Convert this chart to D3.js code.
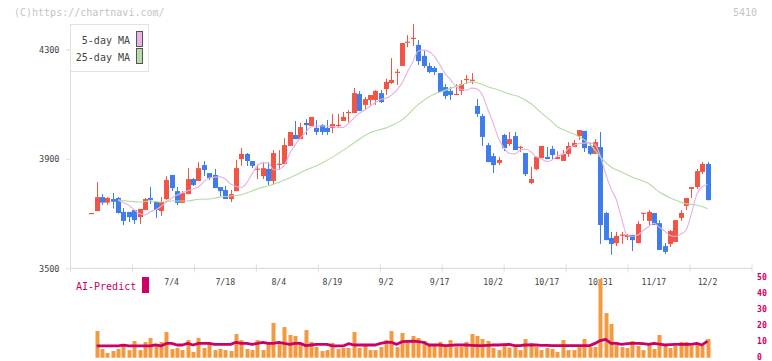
<!DOCTYPE html>
<html><head><meta charset="utf-8">
<script src="https://cdn.jsdelivr.net/npm/d3@7/dist/d3.min.js"></script>
<style>
body{margin:0;background:#fff}
svg{display:block}
text{font-family:"DejaVu Sans Mono",monospace}
</style>
</head><body>
<svg id="c" width="772" height="361"></svg>
<script>
// ---- data ----
const dates = ["6/13","6/16","6/17","6/18","6/19","6/20","6/23","6/24","6/25","6/26","6/27","6/30","7/1","7/2","7/3",
"7/4","7/7","7/8","7/9","7/10","7/11","7/14","7/15","7/16","7/17","7/18","7/22","7/23","7/24","7/25","7/28","7/29","7/30","7/31","8/1",
"8/4","8/5","8/6","8/7","8/8","8/12","8/13","8/14","8/15","8/18","8/19","8/20","8/21","8/22","8/25","8/26","8/27","8/28","8/29","9/1",
"9/2","9/3","9/4","9/5","9/8","9/9","9/10","9/11","9/12","9/16","9/17","9/18","9/19","9/22","9/24","9/25","9/26","9/29","9/30","10/1",
"10/2","10/3","10/6","10/7","10/8","10/9","10/10","10/14","10/15","10/16","10/17","10/20","10/21","10/22","10/23","10/24","10/27","10/28","10/29","10/30",
"10/31","11/4","11/5","11/6","11/7","11/10","11/11","11/12","11/13","11/14","11/17","11/18","11/19","11/20","11/21","11/25","11/26","11/27","11/28","12/1","12/2"];

const opens = [3700,3709,3760,3740,3753,3757,3706,3706,3713,3687,3713,3757,3742,3709,3753,3841,3782,3739,3771,3826,3819,3877,3848,3841,3797,3786,3753,3782,3899,3918,
3892,3863,3837,3863,3819,3881,3881,3947,3987,3972,4031,4020,4013,4023,4013,4013,4023,4038,4067,4067,4137,4097,4115,4115,4140,4155,4177,4217,4239,4327,
4341,4316,4276,4239,4232,4213,4162,4148,4136,4148,4191,4188,4093,4056,3950,3910,3885,3987,3954,3983,3943,3921,3812,3862,3903,3907,3936,3899,3892,3918,
3943,3983,4002,3947,3918,3943,3702,3611,3592,3622,3614,3622,3592,3702,3673,3702,3665,3581,3589,3596,3684,3728,3790,3797,3852,3881];
const highs = [3702,3815,3771,3760,3775,3760,3720,3706,3713,3717,3757,3797,3742,3760,3837,3841,3797,3782,3866,3830,3888,3892,3848,3863,3797,3801,3786,3896,3940,3921,
3892,3879,3888,3888,3932,3932,3976,3998,4038,4031,4045,4053,4042,4027,4042,4064,4064,4071,4078,4159,4147,4126,4133,4151,4151,4192,4268,4228,4323,4352,
4392,4334,4294,4250,4239,4213,4173,4162,4173,4188,4206,4213,4118,4064,3958,3921,3907,3991,3998,3998,3947,3921,3870,3907,3947,3943,3947,3928,3932,3961,
3969,4005,4002,3958,3972,3998,3706,3633,3633,3633,3625,3622,3673,3702,3713,3702,3676,3592,3640,3676,3713,3757,3797,3863,3888,3888];
const lows = [3700,3709,3732,3732,3718,3700,3658,3669,3662,3662,3713,3735,3684,3691,3750,3782,3731,3739,3771,3801,3819,3837,3823,3793,3764,3753,3742,3782,3874,3874,
3866,3826,3826,3804,3804,3859,3881,3947,3972,3972,3987,4020,3987,3987,3987,3994,4013,4038,4034,4067,4075,4078,4097,4097,4104,4133,4173,4170,4239,4308,
4312,4243,4232,4213,4206,4144,4118,4115,4133,4133,4173,4173,4053,3947,3888,3848,3877,3928,3947,3932,3925,3837,3808,3859,3903,3899,3899,3899,3892,3907,
3943,3969,3925,3914,3918,3589,3603,3549,3581,3589,3603,3563,3592,3673,3658,3658,3567,3552,3578,3596,3673,3713,3757,3790,3844,3749];
const closes = [3702,3760,3740,3757,3743,3702,3673,3687,3676,3717,3753,3750,3713,3742,3823,3793,3739,3775,3826,3804,3866,3859,3830,3793,3782,3753,3771,3866,3918,3892,
3874,3864,3866,3819,3921,3882,3950,3998,3972,4016,4023,4053,3998,3998,3998,4027,4024,4053,4071,4140,4075,4118,4133,4148,4107,4181,4188,4218,4323,4328,
4342,4257,4239,4217,4217,4144,4129,4133,4137,4173,4192,4189,4064,3980,3888,3877,3896,3939,3972,3932,3944,3844,3826,3907,3947,3899,3914,3907,3918,3947,
3958,4005,3939,3918,3961,3658,3603,3589,3618,3623,3622,3603,3662,3703,3706,3658,3567,3560,3636,3676,3702,3757,3797,3855,3881,3749];

const volumes = [null,16.8,5.5,3.0,4.2,5.5,8.6,4.8,10.5,4.8,9.9,12.4,8.0,9.9,16.2,5.5,6.1,4.8,11.1,3.6,12.4,6.1,9.3,4.8,5.5,4.8,4.2,14.9,11.1,5.5,
4.8,11.1,4.8,9.3,21.9,9.3,19.3,14.3,13.7,9.3,17.4,9.9,6.7,4.2,4.8,9.3,5.5,6.1,6.1,16.2,6.1,7.4,4.8,4.8,6.7,11.1,16.8,6.7,15.6,9.9,
13.7,12.4,10.5,7.4,7.4,9.9,7.4,11.1,6.7,6.7,9.9,14.9,13.7,11.8,10.5,6.1,4.8,7.6,6.4,6.7,4.8,11.8,9.3,6.7,4.8,6.1,5.5,3.6,11.1,4.8,
4.8,6.7,11.8,6.7,6.7,49.6,28.1,21.2,8.0,6.7,6.1,10.5,7.4,4.8,8.0,5.5,14.3,8.0,6.1,7.4,9.9,9.9,7.4,8.0,7.4,11.8];

const aiPredict = [null,7.4,7.4,7.4,7.4,7.4,7.9,7.4,7.4,7.4,7.4,7.4,8.0,7.4,9.0,9.0,8.0,8.0,9.0,8.0,9.0,9.0,9.0,8.4,8.4,8.4,8.4,9.7,9.0,9.0,
8.4,9.0,9.7,9.0,9.0,9.7,9.0,8.4,9.0,9.0,7.6,8.0,8.4,8.4,8.4,7.4,7.4,7.4,8.8,8.0,8.0,8.0,8.0,8.0,9.0,9.7,9.7,8.4,10.1,10.3,
10.5,10.1,9.7,8.0,8.0,8.0,7.6,7.8,8.0,8.0,8.0,7.8,7.6,7.6,7.8,8.0,8.0,8.2,8.4,7.6,7.6,8.0,8.0,8.0,7.8,7.8,7.6,7.6,7.6,7.6,
7.6,7.6,7.6,7.6,9.0,10.8,11.5,9.0,9.0,8.4,8.8,9.0,9.0,8.8,8.4,9.0,8.6,8.0,8.2,8.4,8.4,8.4,8.4,9.0,8.0,10.5];

// moving averages (date index, value)
const ma5Idx = [5,7,9,10,11,12,13,15,16,18,19,20,22,24,25,26,28,29,30,31,32,33,34,35,36,37,38,40,41,42,44,46,47,48,50,51,52,54,55,57,58,59,60,61,62,63,64,65,66,67,68,69,70,71,72,73,74,75,76,77,78,79,80,81,82,83,84,85,86,87,88,89,90,91,93,94,95,96,97,98,99,100,101,102,103,104,105,106,107,108,109,110,111,112,113,114,115];
const ma5Val = [3748,3730,3700,3695,3706,3714,3726,3757,3768,3783,3790,3798,3830,3834,3826,3808,3795,3812,3845,3875,3885,3885,3860,3862,3875,3918,3950,3997,4017,4020,4020,4015,4014,4030,4066,4078,4092,4117,4121,4151,4178,4217,4254,4293,4297,4292,4275,4245,4212,4190,4166,4153,4151,4158,4155,4132,4080,4030,3975,3940,3920,3918,3930,3935,3926,3908,3900,3890,3896,3910,3916,3937,3947,3956,3958,3952,3910,3845,3790,3750,3680,3620,3617,3622,3638,3652,3664,3650,3636,3620,3616,3625,3640,3700,3770,3798,3806];
const ma25Idx = [5,7,9,11,13,15,18,20,22,24,26,28,30,31,33,37,40,43,46,49,52,55,58,61,63,66,69,71,72,74,76,78,80,82,84,86,87,89,91,93,95,97,99,101,104,106,108,111,113,115];
const ma25Val = [3750,3745,3742,3746,3742,3746,3746,3752,3753,3760,3764,3769,3782,3790,3801,3830,3858,3884,3918,3958,3995,4013,4042,4098,4126,4150,4170,4181,4178,4163,4151,4137,4125,4102,4068,4035,4017,3999,3981,3955,3907,3870,3852,3833,3810,3779,3758,3736,3731,3718];

const priceTicks = [3500,3900,4300];
const volTicks = [0,10,20,30,40,50];
const dateLabels = ["7/4","7/18","8/4","8/19","9/2","9/17","10/2","10/17","10/31","11/17","12/2"];
const legendItems = [{name:"5-day MA",color:"#e8b4e8"},{name:"25-day MA",color:"#b8dca8"}];

// ---- drawing ----
const svg = d3.select("#c");
svg.append("rect").attr("width",772).attr("height",361).attr("fill","#fff");

const x = d3.scalePoint().domain(dates).range([91.3, 707.5]);
const y = d3.scaleLinear().domain([3500, 4300]).range([268.3, 49.3]);
const yv = d3.scaleLinear().domain([0, 50]).range([357.7, 278.3]);
const gx = d3.scaleLinear().domain([0, 11]).range([70.5, 752]);

const RED = "#f25545", BLUE = "#3f7ded";
const axisColor = "#dedede";

// header texts
svg.append("text").attr("x",14).attr("y",16).attr("font-size",10).attr("fill","#c4c4c4").text("(C)https://chartnavi.com/");
svg.append("text").attr("x",757).attr("y",16).attr("font-size",10).attr("fill","#c4c4c4").attr("text-anchor","end").text("5410");

// left axis
svg.append("line").attr("x1",70.5).attr("x2",70.5).attr("y1",y(4392)).attr("y2",268.3).attr("stroke",axisColor);
const ya = svg.append("g").attr("transform","translate(70.5,0)")
  .call(d3.axisLeft(y).tickValues(priceTicks).tickSize(5).tickPadding(6).tickFormat(d3.format("d")));
ya.select(".domain").remove();
ya.selectAll("line").attr("stroke",axisColor);
ya.selectAll("text").attr("font-family","DejaVu Sans Mono").attr("font-size",8.5).attr("fill","#444");

// bottom axis
svg.append("line").attr("x1",70.5).attr("x2",752).attr("y1",268.3).attr("y2",268.3).attr("stroke",axisColor).attr("stroke-width",1.2);
svg.selectAll(".gt").data(d3.range(0,12)).enter().append("line")
  .attr("x1",d=>gx(d)).attr("x2",d=>gx(d)).attr("y1",264.5).attr("y2",272.5).attr("stroke",axisColor);
svg.selectAll(".dl").data(dateLabels).enter().append("text")
  .attr("x",d=>x(d)).attr("y",285).attr("text-anchor","middle").attr("font-size",8.2).attr("fill","#444").text(d=>d);

// candles
const idx = d3.range(dates.length);
const cg = svg.append("g");
cg.selectAll(".wick").data(idx.filter(i=>highs[i]!==lows[i])).enter().append("line")
  .attr("x1",i=>Math.round(x(dates[i]))+0.5).attr("x2",i=>Math.round(x(dates[i]))+0.5)
  .attr("y1",i=>y(highs[i])).attr("y2",i=>y(lows[i]))
  .attr("stroke",i=>closes[i]>=opens[i]?RED:BLUE).attr("stroke-width",1);
cg.selectAll(".body").data(idx).enter().append("rect")
  .attr("x",i=>Math.round(x(dates[i]))-2)
  .attr("width",5)
  .attr("y",i=>y(Math.max(opens[i],closes[i])))
  .attr("height",i=>Math.max(1.2, Math.abs(y(opens[i])-y(closes[i]))))
  .attr("fill",i=>closes[i]>=opens[i]?RED:BLUE);

// moving averages
const line = d3.line().curve(d3.curveMonotoneX);
svg.append("path").attr("d",line(ma25Idx.map((d,k)=>[x(dates[d]), y(ma25Val[k])])))
  .attr("fill","none").attr("stroke","#b5dba3").attr("stroke-width",1.1);
svg.append("path").attr("d",line(ma5Idx.map((d,k)=>[x(dates[d]), y(ma5Val[k])])))
  .attr("fill","none").attr("stroke","#e6b0e6").attr("stroke-width",1.1);

// legend
const lg = svg.append("g");
lg.append("rect").attr("x",70.5).attr("y",24.5).attr("width",78).attr("height",47).attr("fill","#fff").attr("stroke","#e2e2e2");
legendItems.forEach((it,k)=>{
  lg.append("text").attr("x",130).attr("y",44+k*17).attr("text-anchor","end").attr("font-size",10).attr("fill","#444").text(it.name);
  lg.append("rect").attr("x",136.5).attr("y",31.5+k*17).attr("width",6).attr("height",15).attr("fill",it.color).attr("stroke","#555");
});

// volume bars
svg.selectAll(".vol").data(idx.filter(i=>volumes[i]!=null)).enter().append("rect")
  .attr("x",i=>Math.round(x(dates[i]))-1.5).attr("width",4)
  .attr("y",i=>yv(volumes[i])).attr("height",i=>yv(0)-yv(volumes[i]))
  .attr("fill","#f39a40");

// AI-predict line
svg.append("path")
  .attr("d",d3.line()(idx.filter(i=>aiPredict[i]!=null).map(i=>[x(dates[i]), yv(aiPredict[i])])))
  .attr("fill","none").attr("stroke","#cc0066").attr("stroke-width",2.8).attr("stroke-linejoin","round");

// right axis for lower panel
const va = svg.append("g").attr("transform","translate(756,-1)")
  .call(d3.axisRight(yv).tickValues(volTicks).tickSize(0).tickPadding(1));
va.select(".domain").remove();
va.selectAll("text").attr("font-family","DejaVu Sans Mono").attr("font-size",8.2).attr("font-weight","bold").attr("fill","#cc0066");

// AI-Predict label
svg.append("text").attr("x",76).attr("y",290).attr("font-size",10).attr("fill","#cc0066").text("AI-Predict");
svg.append("rect").attr("x",142).attr("y",277).attr("width",7).attr("height",16).attr("fill","#cc0066");
</script>
</body></html>
